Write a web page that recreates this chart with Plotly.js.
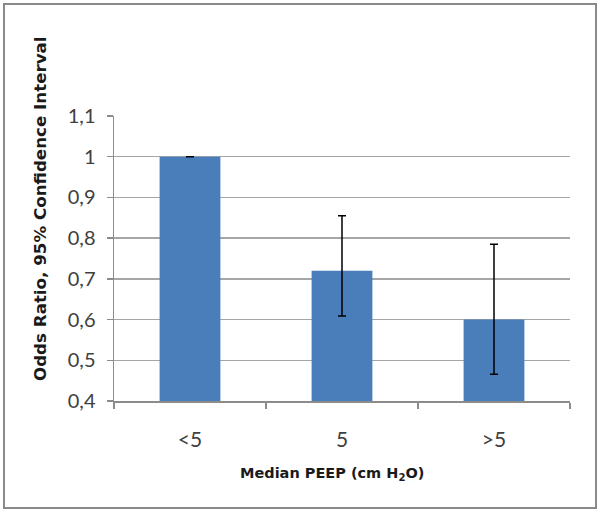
<!DOCTYPE html>
<html>
<head>
<meta charset="utf-8">
<script src="https://cdn.plot.ly/plotly-3.0.1.min.js"></script>
<style>html,body{margin:0;padding:0;background:#fff}#chart{width:600px;height:514px}</style>
</head>
<body>
<div id="chart"></div>
<script>
const categories = ["<5", "5", ">5"];
const oddsRatio = [1.0, 0.72, 0.60];
const ciUpper = [1.0, 0.855, 0.785];
const ciLower = [1.0, 0.609, 0.466];
const yTickVals = [0.4, 0.5, 0.6, 0.7, 0.8, 0.9, 1.0, 1.1];
const xTitle = "Median PEEP (cm H<sub>2</sub>O)";
const yTitle = "Odds Ratio, 95% Confidence Interval";

const errPlus = oddsRatio.map((v, i) => ciUpper[i] - v);
const errMinus = oddsRatio.map((v, i) => v - ciLower[i]);

const trace = {
  type: "bar",
  x: categories,
  y: oddsRatio,
  marker: {color: "#4a7ebb"},
  error_y: {type: "data", symmetric: false, array: errPlus, arrayminus: errMinus,
            color: "#000", thickness: 1.5, width: 4},
  hoverinfo: "x+y"
};

const layout = {
  width: 600, height: 514,
  margin: {l: 114, r: 30, t: 116, b: 113},
  paper_bgcolor: "#fff", plot_bgcolor: "#fff",
  separators: ",.",
  bargap: 0.6,
  showlegend: false,
  font: {family: "Lato, 'Open Sans', sans-serif", color: "#404040"},
  xaxis: {
    type: "category",
    showline: true, linecolor: "#8c8c8c", linewidth: 1.5,
    ticks: "outside", tickson: "boundaries", ticklen: 6, tickcolor: "#8c8c8c", tickwidth: 1.5,
    tickfont: {size: 21, color: "#404040"},
    ticklabelstandoff: 19,
    showgrid: false, zeroline: false
  },
  yaxis: {
    range: [0.4, 1.1],
    tickvals: yTickVals,
    showline: true, linecolor: "#8c8c8c", linewidth: 1.5,
    ticks: "outside", ticklen: 6, tickcolor: "#8c8c8c", tickwidth: 1.5,
    tickfont: {size: 20, color: "#404040"},
    ticklabelstandoff: 7,
    showgrid: true, gridcolor: "#a6a6a6", gridwidth: 1.5,
    zeroline: false
  },
  annotations: [
    {text: yTitle, xref: "paper", yref: "paper", x: -0.162, y: 0.674, textangle: -90,
     showarrow: false, xanchor: "center", yanchor: "middle",
     font: {family: "'DejaVu Sans', sans-serif", size: 16.7, color: "#1a1a1a", weight: "bold"}},
    {text: xTitle, xref: "paper", yref: "paper", x: 0.477, y: -0.256,
     showarrow: false, xanchor: "center", yanchor: "middle",
     font: {family: "'DejaVu Sans', sans-serif", size: 14.5, color: "#1a1a1a", weight: "bold"}}
  ],
  shapes: [
    {type: "rect", xref: "paper", yref: "paper", layer: "below",
     x0: -110/456, x1: 482/456, y0: -107/285, y1: 397/285,
     line: {color: "#8a8a8a", width: 2}}
  ]
};

Plotly.newPlot("chart", [trace], layout, {displayModeBar: false, staticPlot: true});
</script>
</body>
</html>
